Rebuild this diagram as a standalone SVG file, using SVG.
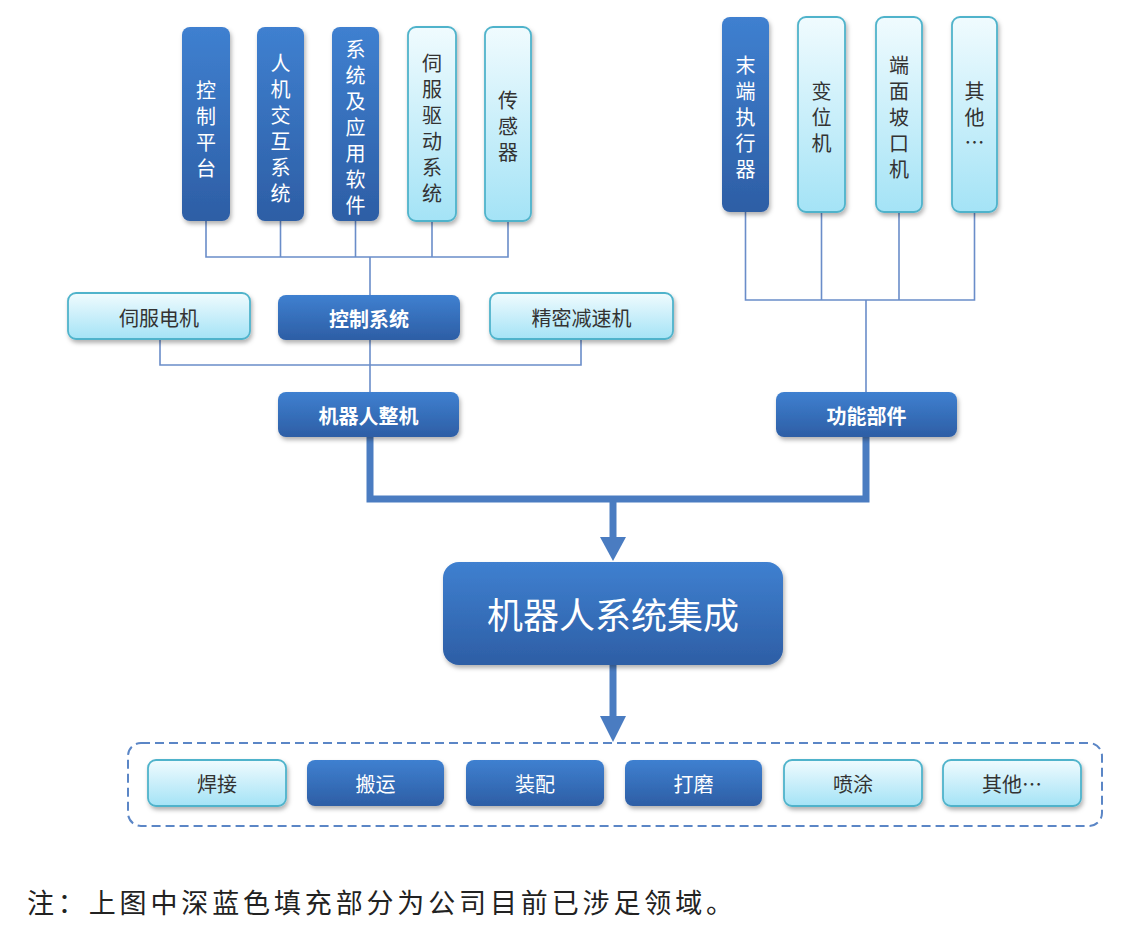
<svg xmlns="http://www.w3.org/2000/svg" width="1137" height="928" viewBox="0 0 1137 928">
<defs>
<linearGradient id="gDark" x1="0" y1="0" x2="0" y2="1"><stop offset="0" stop-color="#3f80d0"/><stop offset="1" stop-color="#2d5ea5"/></linearGradient>
<linearGradient id="gLight" x1="0" y1="0" x2="0" y2="1"><stop offset="0" stop-color="#f0fbfe"/><stop offset="1" stop-color="#a4e3f6"/></linearGradient>
<filter id="sh" x="-20%" y="-20%" width="140%" height="140%"><feDropShadow dx="1.5" dy="3" stdDeviation="2" flood-color="#000" flood-opacity="0.3"/></filter>
<style>
.dark{fill:url(#gDark);filter:url(#sh);}
.light{fill:url(#gLight);stroke:#4fb3cb;stroke-width:1.8;filter:url(#sh);}
.t{font-family:"Noto Sans CJK SC","Noto Sans",sans-serif;font-size:20px;text-anchor:middle;dominant-baseline:central;}
.v{font-family:"Noto Sans CJK SC","Noto Sans",sans-serif;font-size:20px;text-anchor:middle;writing-mode:vertical-rl;letter-spacing:6px;}
.tw{fill:#ffffff;}
.tk{fill:#333333;}
.b{font-weight:bold;}
.thin{stroke:#6a8dc9;stroke-width:1.6;fill:none;}
.thick{stroke:#4a7cc1;stroke-width:7;fill:none;}
.ah{fill:#4a7cc1;}
</style>
</defs>
<rect width="1137" height="928" fill="#ffffff"/>

<g id="connectors">
<polyline class="thin" points="206,221 206,257 508,257 508,221"/>
<line class="thin" x1="280.5" y1="221" x2="280.5" y2="257"/>
<line class="thin" x1="355.5" y1="221" x2="355.5" y2="257"/>
<line class="thin" x1="432" y1="221" x2="432" y2="257"/>
<line class="thin" x1="370" y1="257" x2="370" y2="295"/>
<polyline class="thin" points="160,339 160,365 581,365 581,339"/>
<line class="thin" x1="370" y1="340" x2="370" y2="392"/>
<polyline class="thin" points="745.5,212 745.5,300 974.5,300 974.5,212"/>
<line class="thin" x1="821.5" y1="212" x2="821.5" y2="300"/>
<line class="thin" x1="899" y1="212" x2="899" y2="300"/>
<line class="thin" x1="866" y1="300" x2="866" y2="392"/>
<polyline class="thick" points="370,437 370,499 866,499 866,437"/>
<line class="thick" x1="613" y1="499" x2="613" y2="540"/>
<polygon class="ah" points="600,537 626,537 613,561"/>
<line class="thick" x1="613" y1="665" x2="613" y2="719"/>
<polygon class="ah" points="600,716 626,716 613,742"/>
</g>

<g id="n-kzpt"><rect class="dark" x="182" y="27" width="48" height="194" rx="8"/>
<text class="v tw" x="206" y="132">控制平台</text></g>
<g id="n-rjjh"><rect class="dark" x="257" y="27" width="47" height="194" rx="8"/>
<text class="v tw" x="280.5" y="131">人机交互系统</text></g>
<g id="n-xtyy"><rect class="dark" x="332" y="27" width="47" height="194" rx="8"/>
<text class="v tw" x="355.5" y="130">系统及应用软件</text></g>
<g id="n-sfqd"><rect class="light" x="408" y="27" width="48" height="194" rx="8"/>
<text class="v tk" x="432" y="131">伺服驱动系统</text></g>
<g id="n-cgq"><rect class="light" x="485" y="27" width="46" height="194" rx="8"/>
<text class="v tk" x="508" y="129">传感器</text></g>

<g id="n-mdzx"><rect class="dark" x="722" y="17" width="47" height="195" rx="8"/>
<text class="v tw" x="745.5" y="120">末端执行器</text></g>
<g id="n-bwj"><rect class="light" x="798" y="17" width="47" height="195" rx="8"/>
<text class="v tk" x="821.5" y="120">变位机</text></g>
<g id="n-dmpk"><rect class="light" x="876" y="17" width="46" height="195" rx="8"/>
<text class="v tk" x="899" y="120">端面坡口机</text></g>
<g id="n-qt1"><rect class="light" x="952" y="17" width="45" height="195" rx="8"/>
<text class="v tk" x="974.5" y="107">其他</text>
<text class="t tk" x="974.5" y="141">…</text></g>

<g id="n-sfdj"><rect class="light" x="68" y="293" width="182" height="46" rx="8"/>
<text class="t tk" x="159" y="317">伺服电机</text></g>
<g id="n-kzxt"><rect class="dark" x="278" y="295" width="182" height="45" rx="8"/>
<text class="t tw b" x="369" y="318">控制系统</text></g>
<g id="n-jmjs"><rect class="light" x="490" y="293" width="183" height="46" rx="8"/>
<text class="t tk" x="581.5" y="317">精密减速机</text></g>

<g id="n-jqrzj"><rect class="dark" x="278" y="392" width="181" height="45" rx="8"/>
<text class="t tw b" x="368.5" y="415">机器人整机</text></g>
<g id="n-gnbj"><rect class="dark" x="776" y="392" width="181" height="45" rx="8"/>
<text class="t tw b" x="866.5" y="415">功能部件</text></g>

<g id="n-main"><rect class="dark" x="443" y="562" width="340" height="103" rx="16"/>
<text class="t tw" x="613" y="613" style="font-size:36px">机器人系统集成</text></g>

<g id="n-apps">
<rect x="128" y="743" width="974" height="83" rx="13" fill="none" stroke="#5b86c6" stroke-width="2" stroke-dasharray="9 5"/>
</g>
<g id="n-hj"><rect class="light" x="148" y="760" width="138" height="46" rx="8"/><text class="t tk" x="217" y="783">焊接</text></g>
<g id="n-by"><rect class="dark" x="307" y="760" width="137" height="46" rx="8"/><text class="t tw" x="375.5" y="783">搬运</text></g>
<g id="n-zp"><rect class="dark" x="466" y="760" width="138" height="46" rx="8"/><text class="t tw" x="535" y="783">装配</text></g>
<g id="n-dm"><rect class="dark" x="625" y="760" width="137" height="46" rx="8"/><text class="t tw" x="693.5" y="783">打磨</text></g>
<g id="n-pt"><rect class="light" x="784" y="760" width="138" height="46" rx="8"/><text class="t tk" x="853" y="783">喷涂</text></g>
<g id="n-qt2"><rect class="light" x="943" y="760" width="138" height="46" rx="8"/><text class="t tk" x="1012" y="783">其他…</text></g>

<text x="27" y="913" textLength="706" lengthAdjust="spacing" style="font-family:'Liberation Serif','Noto Sans CJK SC',serif;font-size:27px;fill:#222">注：上图中深蓝色填充部分为公司目前已涉足领域。</text>
</svg>
